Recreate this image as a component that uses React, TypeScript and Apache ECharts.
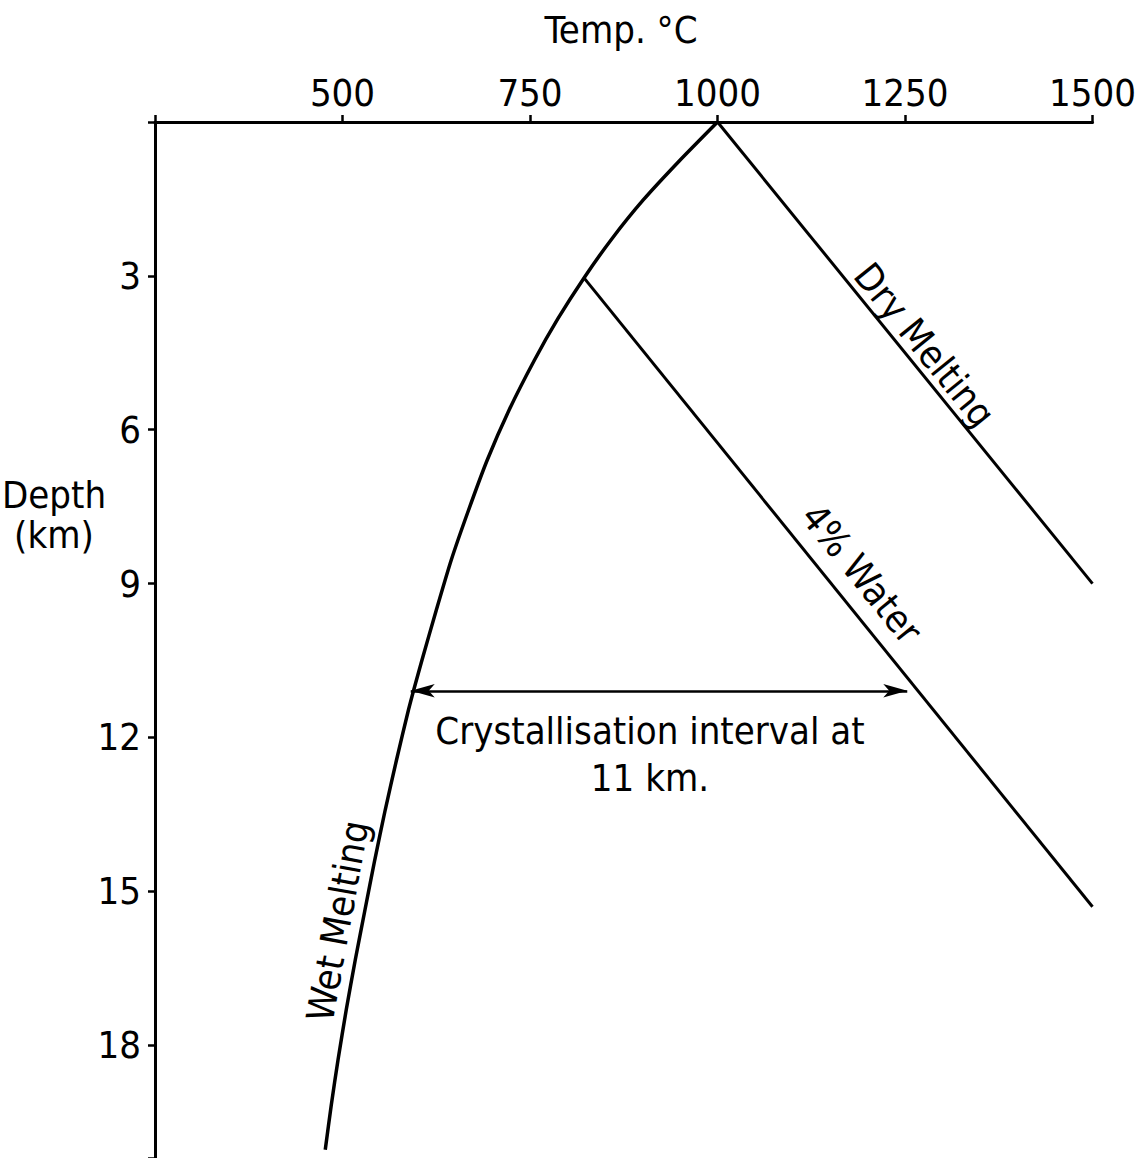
import React, { useEffect, useRef } from "react";
import * as echarts from "echarts";

// Axis ticks
const TEMP_MIN = 250;
const TEMP_MAX = 1500;
const TEMP_STEP = 250;
const DEPTH_MIN = 0;
const DEPTH_MAX = 20.2;
const DEPTH_STEP = 3;

// Wet melting curve (temp °C, depth km)
const wetTemp = [1000, 949, 901, 859, 822, 787, 756, 722, 693, 668, 645, 625, 606, 588, 572, 557, 543, 530, 517, 505, 494, 485, 477];
const wetDepth = [0, 0.76, 1.52, 2.28, 3.04, 3.84, 4.64, 5.62, 6.59, 7.57, 8.54, 9.52, 10.49, 11.46, 12.44, 13.41, 14.39, 15.36, 16.34, 17.31, 18.29, 19.17, 20.04];

// Dry melting line
const dryTemp = [1000, 1500];
const dryDepth = [0, 9];

// 4% water line
const waterTemp = [822, 1500];
const waterDepth = [3.04, 15.3];

// Crystallisation interval arrow at 11 km
const arrowDepth = 11.09;
const arrowTemp = [591, 1253];

// Annotation anchors (temp, depth)
const dryLabelAt = [1276, 4.35];
const waterLabelAt = [1192, 8.81];
const wetLabelAt = [494, 15.58];
const crystLabelAt = [910, 12.33];

const FONT = "'DejaVu Sans Condensed', 'Liberation Sans Narrow', 'Liberation Sans', sans-serif";

const zip = (a: number[], b: number[]) => a.map((v, i) => [v, b[i]]);

export default function App() {
  const ref = useRef<HTMLDivElement>(null);

  useEffect(() => {
    if (!ref.current) return;
    const chart = echarts.init(ref.current, null, { renderer: "svg" });
    const lineStyle = { color: "#000", width: 3 };
    chart.setOption({
      animation: false,
      backgroundColor: "#fff",
      grid: { left: 155, right: 46, top: 122, bottom: 0, containLabel: false },
      xAxis: {
        type: "value",
        position: "top",
        min: TEMP_MIN,
        max: TEMP_MAX,
        interval: TEMP_STEP,
        axisLine: { show: true, onZero: false, lineStyle: { color: "#000", width: 3 } },
        axisTick: { show: true, length: 7, lineStyle: { color: "#000", width: 2.5 } },
        axisLabel: {
          color: "#000",
          fontSize: 38,
          fontFamily: FONT,
          margin: 10,
          formatter: (v: number) => (v === TEMP_MIN ? "" : String(v)),
        },
        splitLine: { show: false },
      },
      yAxis: {
        type: "value",
        inverse: true,
        min: DEPTH_MIN,
        max: DEPTH_MAX,
        interval: DEPTH_STEP,
        axisLine: { show: true, onZero: false, lineStyle: { color: "#000", width: 3 } },
        axisTick: { show: true, length: 7, lineStyle: { color: "#000", width: 2.5 } },
        axisLabel: {
          color: "#000",
          fontSize: 38,
          fontFamily: FONT,
          margin: 14,
          formatter: (v: number) => (v > 0 && v % DEPTH_STEP === 0 ? String(v) : ""),
        },
        splitLine: { show: false },
      },
      series: [
        {
          name: "Wet Melting",
          type: "line",
          data: zip(wetTemp, wetDepth),
          smooth: 0.2,
          symbol: "none",
          lineStyle: { color: "#000", width: 3.5 },
          silent: true,
        },
        {
          name: "Dry Melting",
          type: "line",
          data: zip(dryTemp, dryDepth),
          symbol: "none",
          lineStyle,
          silent: true,
        },
        {
          name: "4% Water",
          type: "line",
          data: zip(waterTemp, waterDepth),
          symbol: "none",
          lineStyle,
          silent: true,
        },
        {
          name: "Crystallisation interval",
          type: "line",
          data: [],
          symbol: "none",
          silent: true,
          markLine: {
            silent: true,
            symbol: ["arrow", "arrow"],
            symbolSize: [10, 24],
            label: { show: false },
            lineStyle: { color: "#000", width: 2.5, type: "solid" },
            data: [[{ coord: [arrowTemp[0], arrowDepth] }, { coord: [arrowTemp[1], arrowDepth] }]],
          },
        },
      ],
    });

    const px = (p: number[]) => chart.convertToPixel({ gridIndex: 0 }, p) as number[];
    const angleOf = (a: number[], b: number[]) => {
      const pa = px(a);
      const pb = px(b);
      return -Math.atan2(pb[1] - pa[1], pb[0] - pa[0]);
    };
    const dryRot = angleOf([dryTemp[0], dryDepth[0]], [dryTemp[1], dryDepth[1]]);
    const waterRot = angleOf([waterTemp[0], waterDepth[0]], [waterTemp[1], waterDepth[1]]);
    const n = wetTemp.length;
    const wetRot = angleOf([wetTemp[n - 1], wetDepth[n - 1]], [wetTemp[n - 9], wetDepth[n - 9]]);
    const textStyle = (text: string, extra: any = {}) => ({
      text,
      fill: "#000",
      fontSize: 38,
      fontFamily: FONT,
      textAlign: "center",
      textVerticalAlign: "middle",
      ...extra,
    });
    const d = px(dryLabelAt);
    const w = px(waterLabelAt);
    const wt = px(wetLabelAt);
    const c = px(crystLabelAt);
    chart.setOption({
      graphic: [
        { type: "text", x: 621, y: 30, style: textStyle("Temp. °C") },
        { type: "text", x: 54, y: 515, style: textStyle("Depth\n(km)", { lineHeight: 40 }) },
        { type: "text", x: d[0], y: d[1], rotation: dryRot, style: textStyle("Dry Melting") },
        { type: "text", x: w[0], y: w[1], rotation: waterRot, style: textStyle("4% Water") },
        { type: "text", x: wt[0], y: wt[1], rotation: wetRot, style: textStyle("Wet Melting") },
        {
          type: "text",
          x: c[0],
          y: c[1],
          style: textStyle("Crystallisation interval at\n11 km.", { lineHeight: 47 }),
        },
      ],
    });

    return () => chart.dispose();
  }, []);

  return (
    <div
      ref={ref}
      style={{ position: "absolute", left: 0, top: 0, width: 1139, height: 1158, background: "#fff" }}
    />
  );
}
